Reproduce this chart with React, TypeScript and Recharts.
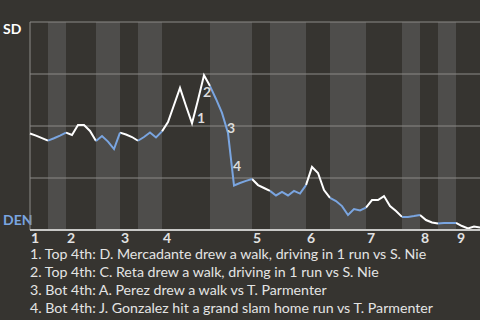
import { Line, LineChart, ReferenceArea, ReferenceLine, XAxis, YAxis } from "recharts";

const innings = ["1", "2", "3", "4", "5", "6", "7", "8", "9"];
const inningStart = [0, 6, 15, 22, 37, 46, 56, 65, 71];
// plate appearance index where each half inning begins / ends
const halfInningBreaks = [0, 3, 6, 11, 15, 18, 22, 30, 37, 40, 46, 50, 56, 62, 65, 68, 71, 75];

// SD win probability after each plate appearance
const sdWinPct = [
  46.4, 45.4, 44.2, 43.0, 44.1, 45.4, 46.8, 45.7, 50.5, 50.5,
  47.6, 42.8, 45.2, 42.5, 38.9, 46.8, 45.9, 44.7, 42.9, 44.7,
  46.9, 44.5, 47.4, 51.9, 60.1, 68.3, 59.6, 51.3, 62.5, 74.4,
  69.2, 63.0, 56.3, 46.6, 21.4, 22.6, 23.6, 24.5, 21.6, 20.2,
  18.8, 16.6, 18.3, 16.6, 18.8, 17.5, 21.6, 30.3, 27.4, 19.2,
  15.4, 13.9, 11.5, 7.2, 10.1, 9.4, 10.8, 14.4, 14.4, 16.3,
  11.5, 9.1, 6.3, 6.3, 6.7, 7.2, 4.8, 3.6, 3.1, 3.4,
  3.4, 3.4, 1.9, 0.7, 1.7, 1.2,
];

const playNotes = [
  "Top 4th: D. Mercadante drew a walk, driving in 1 run vs S. Nie",
  "Top 4th: C. Reta drew a walk, driving in 1 run vs S. Nie",
  "Bot 4th: A. Perez drew a walk vs T. Parmenter",
  "Bot 4th: J. Gonzalez hit a grand slam home run vs T. Parmenter",
];
const playIndex = [28, 29, 33, 34];
const playLabelOffset = [[-1, 23], [-1, 22], [-1, 0], [-1, -14]];

const BG = "#363430";
const STRIPE = "#4e4d4b";
const GRID = "#8b8a87";
const WHITE = "#ffffff";
const BLUE = "#7aa5e0";
const FONT = "Lato, sans-serif";

const inHalf = (i: number, top: boolean) => {
  for (let k = top ? 0 : 1; k < halfInningBreaks.length - 1; k += 2) {
    if (i >= halfInningBreaks[k] && i <= halfInningBreaks[k + 1]) return true;
  }
  return false;
};

const data = sdWinPct.map((v, i) => ({
  i,
  all: v,
  sd: inHalf(i, true) ? v : null,
  den: inHalf(i, false) ? v : null,
}));

const bottomHalves = halfInningBreaks
  .slice(0, -1)
  .map((b, k) => ({ k, x1: b, x2: halfInningBreaks[k + 1] }))
  .filter((h) => h.k % 2 === 1);

const InningTick = (props: any) => {
  const { x, payload } = props;
  const idx = inningStart.indexOf(payload.value);
  return (
    <text x={x + 1} y={243} fill="#e2e2e2" fontSize={14} fontWeight={700} fontFamily={FONT}>
      {innings[idx]}
    </text>
  );
};

const PlayDot = (props: any) => {
  const { cx, cy, index } = props;
  const n = playIndex.indexOf(index);
  if (n < 0) return <g key={`d${index}`} />;
  return (
    <text key={`d${index}`} x={cx + playLabelOffset[n][0]} y={cy + playLabelOffset[n][1]} fill="#dcdcdc" fontSize={14} fontWeight={700} fontFamily={FONT}>
      {n + 1}
    </text>
  );
};

export default function App() {
  return (
    <div style={{ position: "absolute", left: 0, top: 0, width: 480, height: 320, background: BG, overflow: "hidden", fontFamily: FONT }}>
      <div style={{ position: "absolute", left: 3, top: 20, color: WHITE, fontSize: 14, fontWeight: 700 }}>SD</div>
      <div style={{ position: "absolute", left: 3, top: 211, color: BLUE, fontSize: 14, fontWeight: 700 }}>DEN</div>
      <LineChart width={480} height={260} data={data} margin={{ top: 22, right: 0, left: 30, bottom: 0 }} style={{ position: "absolute", left: 0, top: 0 }}>
        <XAxis
          type="number"
          dataKey="i"
          domain={[0, 75]}
          ticks={inningStart}
          interval={0}
          tick={<InningTick />}
          tickLine={false}
          axisLine={{ stroke: "#c8c8c6", strokeWidth: 2 }}
          height={30}
        />
        <YAxis hide domain={[0, 100]} />
        {bottomHalves.map((h) => (
          <ReferenceArea key={h.k} x1={h.x1} x2={h.x2} fill={STRIPE} fillOpacity={1} stroke="none" />
        ))}
        {[25, 50, 75, 100].map((v) => (
          <ReferenceLine key={v} y={v} stroke={GRID} strokeWidth={1} />
        ))}
        <ReferenceLine x={0} stroke={GRID} strokeWidth={1} />
        <Line dataKey="sd" stroke={WHITE} strokeWidth={2} dot={false} isAnimationActive={false} connectNulls={false} />
        <Line dataKey="den" stroke={BLUE} strokeWidth={2} dot={false} isAnimationActive={false} connectNulls={false} />
        <Line dataKey="all" stroke="none" dot={<PlayDot />} activeDot={false} isAnimationActive={false} />
      </LineChart>
      <div style={{ position: "absolute", left: 30, top: 245, color: "#e4e4e4", fontSize: 14.2, lineHeight: "18px" }}>
        {playNotes.map((t, n) => (
          <div key={n}>{`${n + 1}. ${t}`}</div>
        ))}
      </div>
    </div>
  );
}
